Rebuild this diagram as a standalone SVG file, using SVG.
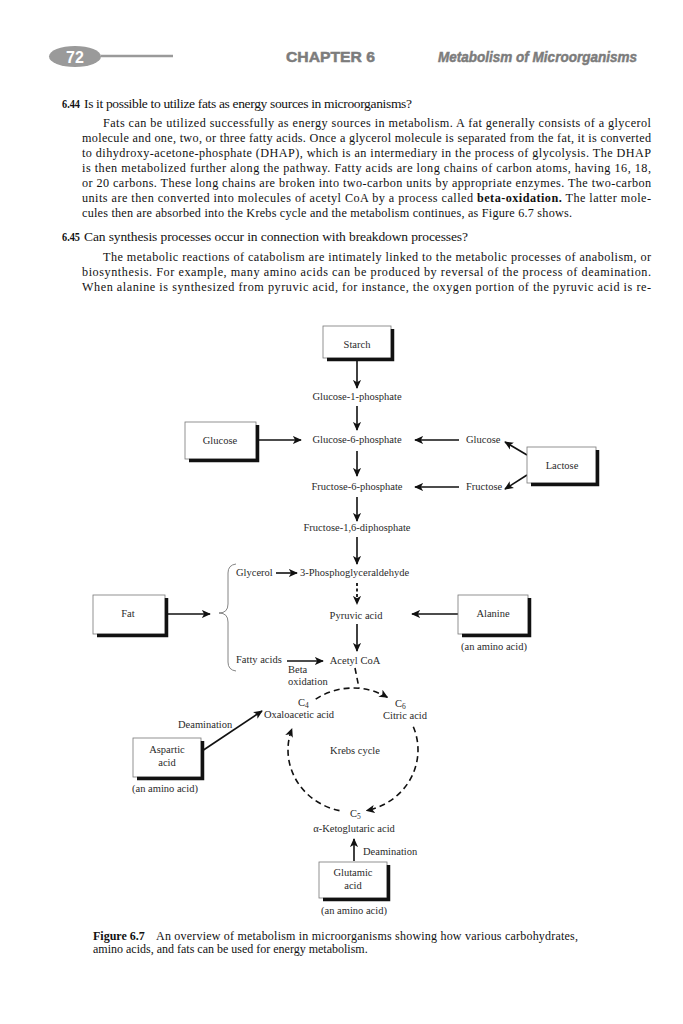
<svg xmlns="http://www.w3.org/2000/svg" width="683" height="1024" viewBox="0 0 683 1024">
<style>
.body{font-family:"Liberation Serif","Times New Roman",serif;font-size:12.2px;fill:#111}
.q{font-family:"Liberation Serif","Times New Roman",serif;font-size:13.5px;fill:#111}
.num{font-family:"Liberation Serif","Times New Roman",serif;font-size:13px;font-weight:bold;fill:#111}
.d{font-family:"Liberation Serif","Times New Roman",serif;font-size:10.5px;fill:#2a2a2a}
.dc{font-family:"Liberation Serif","Times New Roman",serif;font-size:10.5px;fill:#2a2a2a;text-anchor:middle}
.cap{font-family:"Liberation Serif","Times New Roman",serif;font-size:12px;fill:#111}
.hdr{font-family:"Liberation Sans Narrow","Liberation Sans",Arial,sans-serif;font-size:15px;font-weight:bold;fill:#7c7c7c;stroke:#7c7c7c;stroke-width:0.5}
.box{fill:#fff;stroke:#777;stroke-width:0.8}
.sh{fill:none;stroke:#111;stroke-width:3.5}
.ar{fill:none;stroke:#111;stroke-width:1.6}
.dash{fill:none;stroke:#111;stroke-width:1.6;stroke-dasharray:6 4}
.dot{fill:none;stroke:#111;stroke-width:1.8;stroke-dasharray:3 2.5}
.brace{fill:none;stroke:#777;stroke-width:0.9}
</style>
<defs>
<marker id="ah" viewBox="0 0 10 10" refX="9" refY="5" markerWidth="9" markerHeight="9" markerUnits="userSpaceOnUse" orient="auto">
<path d="M0,0.5 L10,5 L0,9.5 L2.5,5 Z" fill="#111" stroke="none"/>
</marker>
</defs>
<rect width="683" height="1024" fill="#fff"/>

<g id="header">
<ellipse cx="75" cy="56.5" rx="26" ry="10.5" fill="#9a9a9a"/>
<text x="75" y="62.5" text-anchor="middle" font-family="Liberation Sans,Arial,sans-serif" font-size="16" font-weight="bold" fill="#fff">72</text>
<line x1="101" y1="56" x2="173" y2="56" stroke="#9a9a9a" stroke-width="2.5"/>
<text class="hdr" x="286" y="62" textLength="89" lengthAdjust="spacingAndGlyphs">CHAPTER 6</text>
<text class="hdr" x="438" y="62" font-style="italic" textLength="199" lengthAdjust="spacingAndGlyphs">Metabolism of Microorganisms</text>
</g>

<g id="text644">
<text class="num" x="62" y="108" textLength="18" lengthAdjust="spacingAndGlyphs">6.44</text>
<text class="q" x="84" y="108" textLength="328" lengthAdjust="spacing">Is it possible to utilize fats as energy sources in microorganisms?</text>
<text class="body" x="103" y="127" textLength="548" lengthAdjust="spacing">Fats can be utilized successfully as energy sources in metabolism. A fat generally consists of a glycerol</text>
<text class="body" x="82" y="142" textLength="569" lengthAdjust="spacing">molecule and one, two, or three fatty acids. Once a glycerol molecule is separated from the fat, it is converted</text>
<text class="body" x="82" y="157" textLength="569" lengthAdjust="spacing">to dihydroxy-acetone-phosphate (DHAP), which is an intermediary in the process of glycolysis. The DHAP</text>
<text class="body" x="82" y="172" textLength="569" lengthAdjust="spacing">is then metabolized further along the pathway. Fatty acids are long chains of carbon atoms, having 16, 18,</text>
<text class="body" x="82" y="187" textLength="569" lengthAdjust="spacing">or 20 carbons. These long chains are broken into two-carbon units by appropriate enzymes. The two-carbon</text>
<text class="body" x="82" y="202" textLength="569" lengthAdjust="spacing">units are then converted into molecules of acetyl CoA by a process called <tspan font-weight="bold">beta-oxidation.</tspan> The latter mole-</text>
<text class="body" x="82" y="216.5" textLength="490" lengthAdjust="spacing">cules then are absorbed into the Krebs cycle and the metabolism continues, as Figure 6.7 shows.</text>
</g>

<g id="text645">
<text class="num" x="62" y="241" textLength="18" lengthAdjust="spacingAndGlyphs">6.45</text>
<text class="q" x="84" y="241" textLength="384" lengthAdjust="spacing">Can synthesis processes occur in connection with breakdown processes?</text>
<text class="body" x="103" y="260.5" textLength="548" lengthAdjust="spacing">The metabolic reactions of catabolism are intimately linked to the metabolic processes of anabolism, or</text>
<text class="body" x="82" y="275.5" textLength="569" lengthAdjust="spacing">biosynthesis. For example, many amino acids can be produced by reversal of the process of deamination.</text>
<text class="body" x="82" y="290.5" textLength="569" lengthAdjust="spacing">When alanine is synthesized from pyruvic acid, for instance, the oxygen portion of the pyruvic acid is re-</text>
</g>

<g id="connectors">
<line class="ar" x1="357" y1="361" x2="357" y2="388" marker-end="url(#ah)"/>
<line class="ar" x1="357" y1="406" x2="357" y2="430" stroke-width="1.1" marker-end="url(#ah)"/>
<line class="ar" x1="258" y1="440" x2="301" y2="440" marker-end="url(#ah)"/>
<line class="ar" x1="459" y1="440" x2="415" y2="440" marker-end="url(#ah)"/>
<line class="ar" x1="527" y1="455" x2="505" y2="442" marker-end="url(#ah)"/>
<line class="ar" x1="527" y1="475" x2="505" y2="489" marker-end="url(#ah)"/>
<line class="ar" x1="357" y1="451" x2="357" y2="476" marker-end="url(#ah)"/>
<line class="ar" x1="459" y1="487" x2="415" y2="487" marker-end="url(#ah)"/>
<line class="ar" x1="357" y1="497" x2="357" y2="521" marker-end="url(#ah)"/>
<line class="ar" x1="357" y1="537" x2="357" y2="564" marker-end="url(#ah)"/>
<line class="ar" x1="276" y1="573" x2="297" y2="573" marker-end="url(#ah)"/>
<line class="dot" x1="357" y1="583" x2="357" y2="604" marker-end="url(#ah)"/>
<line class="ar" x1="357" y1="624" x2="357" y2="651" marker-end="url(#ah)"/>
<line class="ar" x1="287" y1="661" x2="323" y2="661" marker-end="url(#ah)"/>
<line class="ar" x1="168" y1="614" x2="210" y2="614" marker-end="url(#ah)"/>
<line class="ar" x1="458" y1="614" x2="412" y2="614" marker-end="url(#ah)"/>
<path class="dash" d="M355,668 L359,688"/>
<path class="dash" d="M315.7,699.2 A65,62 0 0 1 387.4,697.4" marker-end="url(#ah)"/>
<path class="dash" d="M413.3,726.8 A65,62 0 0 1 366.5,810.6" marker-end="url(#ah)"/>
<path class="dash" d="M339.5,810.6 A65,62 0 0 1 291.9,728.8" marker-end="url(#ah)"/>
<line class="ar" x1="202" y1="751" x2="262" y2="711" marker-end="url(#ah)"/>
<line class="ar" x1="354" y1="861" x2="354" y2="839" marker-end="url(#ah)"/>
<path class="brace" d="M236,564 Q228,565 228,573 L228,604 Q228,613 219,613 Q228,613 228,622 L228,662 Q228,670 236,671"/>
</g>

<g id="starch">
<rect class="box" x="323" y="326" width="68" height="32"/>
<path class="sh" d="M392.5,329 V359.5 H327"/>
<text class="dc" x="357" y="348">Starch</text>
</g>
<g id="g1p"><text class="dc" x="357" y="400">Glucose-1-phosphate</text></g>
<g id="glucose-box">
<rect class="box" x="185" y="422" width="71" height="37"/>
<path class="sh" d="M257.5,425 V460.5 H189"/>
<text class="dc" x="220" y="444">Glucose</text>
</g>
<g id="g6p"><text class="dc" x="357" y="443">Glucose-6-phosphate</text></g>
<g id="glucose-r"><text class="d" x="466" y="443">Glucose</text></g>
<g id="lactose">
<rect class="box" x="527" y="447" width="69" height="36"/>
<path class="sh" d="M597.5,450 V484.5 H531"/>
<text class="dc" x="562" y="469">Lactose</text>
</g>
<g id="f6p"><text class="dc" x="357" y="490">Fructose-6-phosphate</text></g>
<g id="fructose"><text class="d" x="466" y="490">Fructose</text></g>
<g id="f16"><text class="dc" x="357" y="531">Fructose-1,6-diphosphate</text></g>
<g id="glycerol"><text class="d" x="236" y="576">Glycerol</text></g>
<g id="pga"><text class="d" x="300" y="576">3-Phosphoglyceraldehyde</text></g>
<g id="fat">
<rect class="box" x="93" y="595" width="72" height="39"/>
<path class="sh" d="M166.5,598 V635.5 H97"/>
<text class="dc" x="128" y="617">Fat</text>
</g>
<g id="pyruvic"><text class="dc" x="356" y="619">Pyruvic acid</text></g>
<g id="alanine">
<rect class="box" x="458" y="595" width="70" height="39"/>
<path class="sh" d="M529.5,598 V635.5 H462"/>
<text class="dc" x="493" y="617">Alanine</text>
<text class="dc" x="494" y="650">(an amino acid)</text>
</g>
<g id="fatty"><text class="d" x="236" y="663">Fatty acids</text></g>
<g id="beta"><text class="d" x="288" y="673">Beta</text><text class="d" x="288" y="685">oxidation</text></g>
<g id="acetyl"><text class="dc" x="355" y="664">Acetyl CoA</text></g>
<g id="oxaloacetic">
<text class="d" x="298" y="706">C<tspan font-size="7.5" dy="2">4</tspan></text>
<text class="dc" x="299" y="718">Oxaloacetic acid</text>
</g>
<g id="citric">
<text class="d" x="395" y="707">C<tspan font-size="7.5" dy="2">6</tspan></text>
<text class="dc" x="405" y="719">Citric acid</text>
</g>
<g id="krebs"><text class="dc" x="355" y="754">Krebs cycle</text></g>
<g id="deam-asp"><text class="d" x="178" y="728">Deamination</text></g>
<g id="aspartic">
<rect class="box" x="133" y="738" width="68" height="39"/>
<path class="sh" d="M202.5,741 V778.5 H137"/>
<text class="dc" x="167" y="753">Aspartic</text>
<text class="dc" x="167" y="766">acid</text>
<text class="dc" x="165" y="792">(an amino acid)</text>
</g>
<g id="ketoglutaric">
<text class="d" x="350" y="817">C<tspan font-size="7.5" dy="2">5</tspan></text>
<text class="dc" x="354" y="832">α-Ketoglutaric acid</text>
</g>
<g id="deam-glu"><text class="d" x="363" y="855">Deamination</text></g>
<g id="glutamic">
<rect class="box" x="319" y="862" width="68" height="36"/>
<path class="sh" d="M388.5,865 V899.5 H323"/>
<text class="dc" x="353" y="876">Glutamic</text>
<text class="dc" x="353" y="889">acid</text>
<text class="dc" x="354" y="914">(an amino acid)</text>
</g>

<g id="caption">
<text class="cap" x="93" y="940" font-weight="bold">Figure 6.7</text>
<text class="cap" x="156" y="940" textLength="422" lengthAdjust="spacing">An overview of metabolism in microorganisms showing how various carbohydrates,</text>
<text class="cap" x="93" y="953">amino acids, and fats can be used for energy metabolism.</text>
</g>
</svg>
